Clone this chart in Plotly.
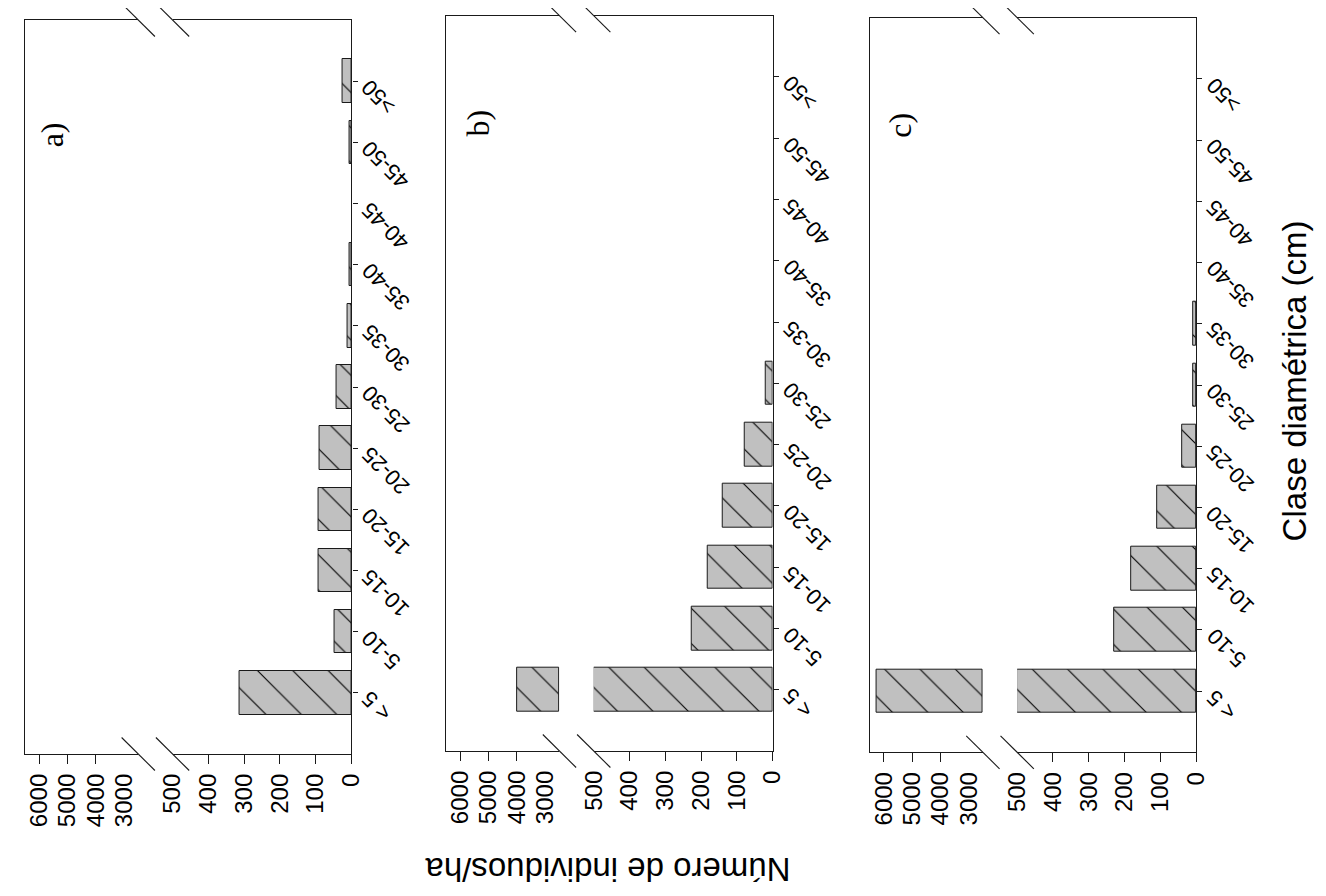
import numpy as np
import plotly.graph_objects as go

# ---------------- data ----------------
categories = ["< 5", "5-10", "10-15", "15-20", "20-25", "25-30",
              "30-35", "35-40", "40-45", "45-50", ">50"]
panel_a = [313, 48, 92, 92, 88, 41, 12, 4, 0, 4, 24]
panel_b = [4000, 226, 181, 140, 79, 19, 0, 0, 0, 0, 0]
panel_c = [6250, 228, 181, 108, 40, 9, 9, 0, 0, 0, 0]
panel_labels = ["a)", "b)", "c)"]
low_ticks = [0, 100, 200, 300, 400, 500]
low_marks = [0, 100, 200, 300, 400]
high_ticks = [3000, 4000, 5000, 6000]
high_marks = [4000, 5000, 6000]
low_range = [500, 0]
high_range = [6500, 2500]
x_title = "Número de individuos/ha"
y_title = "Clase diamétrica (cm)"

panels = [panel_a, panel_b, panel_c]

# ---------------- geometry (screen pixels; page has an 8px body margin) ----------------
MARGIN = 8
W, H = 1318, 888
def px(x):
    return (x - MARGIN) / W
def py(y):
    return 1 - (y - MARGIN) / H

def sid(n):
    return "" if n == 1 else str(n)

offsets = [0, 430, 862.3]
tops = [20, 15.7, 17.7]
bottoms = [754, 751, 752.3]
high_seg = (11, 126.7)
low_seg = (161.7, 344.3)
label_pos = [(39, 135), (474, 123), (904, 125)]

FONT = "Liberation Sans, Arial, sans-serif"
SERIF = "Liberation Serif, Times New Roman, serif"
LINE = "#1a1a1a"

fig = go.Figure()
layout = dict(width=W, height=H, margin=dict(l=0, r=0, t=0, b=0),
              paper_bgcolor="white", plot_bgcolor="rgba(0,0,0,0)",
              showlegend=False, bargap=0)
annotations = []
shapes = []

bar_marker = dict(color="#c0c0c0",
                  line=dict(color=LINE, width=1),
                  pattern=dict(shape="\\", fgcolor="black", bgcolor="#c0c0c0",
                               size=25, solidity=0.045, fillmode="replace"))

for i, vals in enumerate(panels):
    ox = offsets[i]
    xl, xh = sid(2 * i + 1), sid(2 * i + 2)          # low / high x axes
    yl, yh = sid(2 * i + 1), sid(2 * i + 2)
    ydom = [py(bottoms[i]), py(tops[i])]

    low_vals = [min(v, low_range[0]) if v > 0 else None for v in vals]
    high_len = [v - high_range[1] if v > high_range[1] else None for v in vals]

    fig.add_trace(go.Bar(y=categories, x=low_vals, orientation="h", width=0.71,
                         xaxis=f"x{xl}", yaxis=f"y{yl}", marker=bar_marker,
                         hoverinfo="skip"))
    fig.add_trace(go.Bar(y=categories, x=high_len, base=high_range[1],
                         orientation="h", width=0.71,
                         xaxis=f"x{xh}", yaxis=f"y{yh}", marker=bar_marker,
                         hoverinfo="skip"))

    common_x = dict(showgrid=False, zeroline=False, showline=True, mirror=True,
                    linecolor=LINE, linewidth=1.3, ticks="", tickangle=-90,
                    tickfont=dict(family=FONT, size=24, color="black"),
                    ticklabelstandoff=9, fixedrange=True)
    layout[f"xaxis{xl}"] = dict(common_x,
                                domain=[px(ox + low_seg[0]), px(ox + low_seg[1])],
                                anchor=f"y{yl}", range=low_range,
                                tickmode="array", tickvals=low_ticks,
                                minor=dict(tickmode="array", tickvals=low_marks,
                                           ticks="outside", ticklen=9,
                                           tickwidth=1.3, tickcolor=LINE))
    layout[f"xaxis{xh}"] = dict(common_x,
                                domain=[px(ox + high_seg[0]), px(ox + high_seg[1])],
                                anchor=f"y{yh}", range=high_range,
                                tickmode="array", tickvals=high_ticks,
                                minor=dict(tickmode="array", tickvals=high_marks,
                                           ticks="outside", ticklen=9,
                                           tickwidth=1.3, tickcolor=LINE))
    layout[f"yaxis{yl}"] = dict(domain=ydom, anchor=f"x{xl}", side="right",
                                type="category", categoryorder="array",
                                categoryarray=categories, range=[-1, 11],
                                showgrid=False, zeroline=False, showline=True,
                                linecolor=LINE, linewidth=1.3, ticks="outside",
                                ticklen=5, tickwidth=1.3, tickcolor=LINE,
                                showticklabels=False, fixedrange=True)
    layout[f"yaxis{yh}"] = dict(domain=ydom, anchor=f"x{xh}", side="left",
                                type="category", categoryorder="array",
                                categoryarray=categories, range=[-1, 11],
                                showgrid=False, zeroline=False, showline=True,
                                linecolor=LINE, linewidth=1.3, ticks="",
                                showticklabels=False, fixedrange=True)

    # category labels (rotated)
    for c in categories:
        annotations.append(dict(text=c, x=1, xref=f"x{xl} domain", y=c,
                                yref=f"y{yl}", xanchor="left", yanchor="top",
                                xshift=3, yshift=9, textangle=-135,
                                showarrow=False,
                                font=dict(family=FONT, size=22, color="black")))

    # panel label
    lx, ly = label_pos[i]
    annotations.append(dict(text=panel_labels[i], x=px(lx), y=py(ly),
                            xref="paper", yref="paper", xanchor="center",
                            yanchor="middle", textangle=-90, showarrow=False,
                            font=dict(family=SERIF, size=32, color="black")))

    # axis break marks
    for cx in (ox + high_seg[1], ox + low_seg[0]):
        for yb in (tops[i], bottoms[i]):
            shapes.append(dict(type="line", xref="paper", yref="paper",
                               x0=px(cx - 17), y0=py(yb - 16.5),
                               x1=px(cx + 17), y1=py(yb + 16.5),
                               line=dict(color=LINE, width=1.1)))

annotations.append(dict(text=x_title, x=px(606), y=py(870), xref="paper",
                        yref="paper", xanchor="center", yanchor="middle",
                        textangle=180, showarrow=False,
                        font=dict(family=FONT, size=33, color="black")))
annotations.append(dict(text=y_title, x=px(1307), y=py(381), xref="paper",
                        yref="paper", xanchor="center", yanchor="middle",
                        textangle=-90, showarrow=False,
                        font=dict(family=FONT, size=33, color="black")))

layout["annotations"] = annotations
layout["shapes"] = shapes
fig.update_layout(**layout)
fig.write_html("out.html")
